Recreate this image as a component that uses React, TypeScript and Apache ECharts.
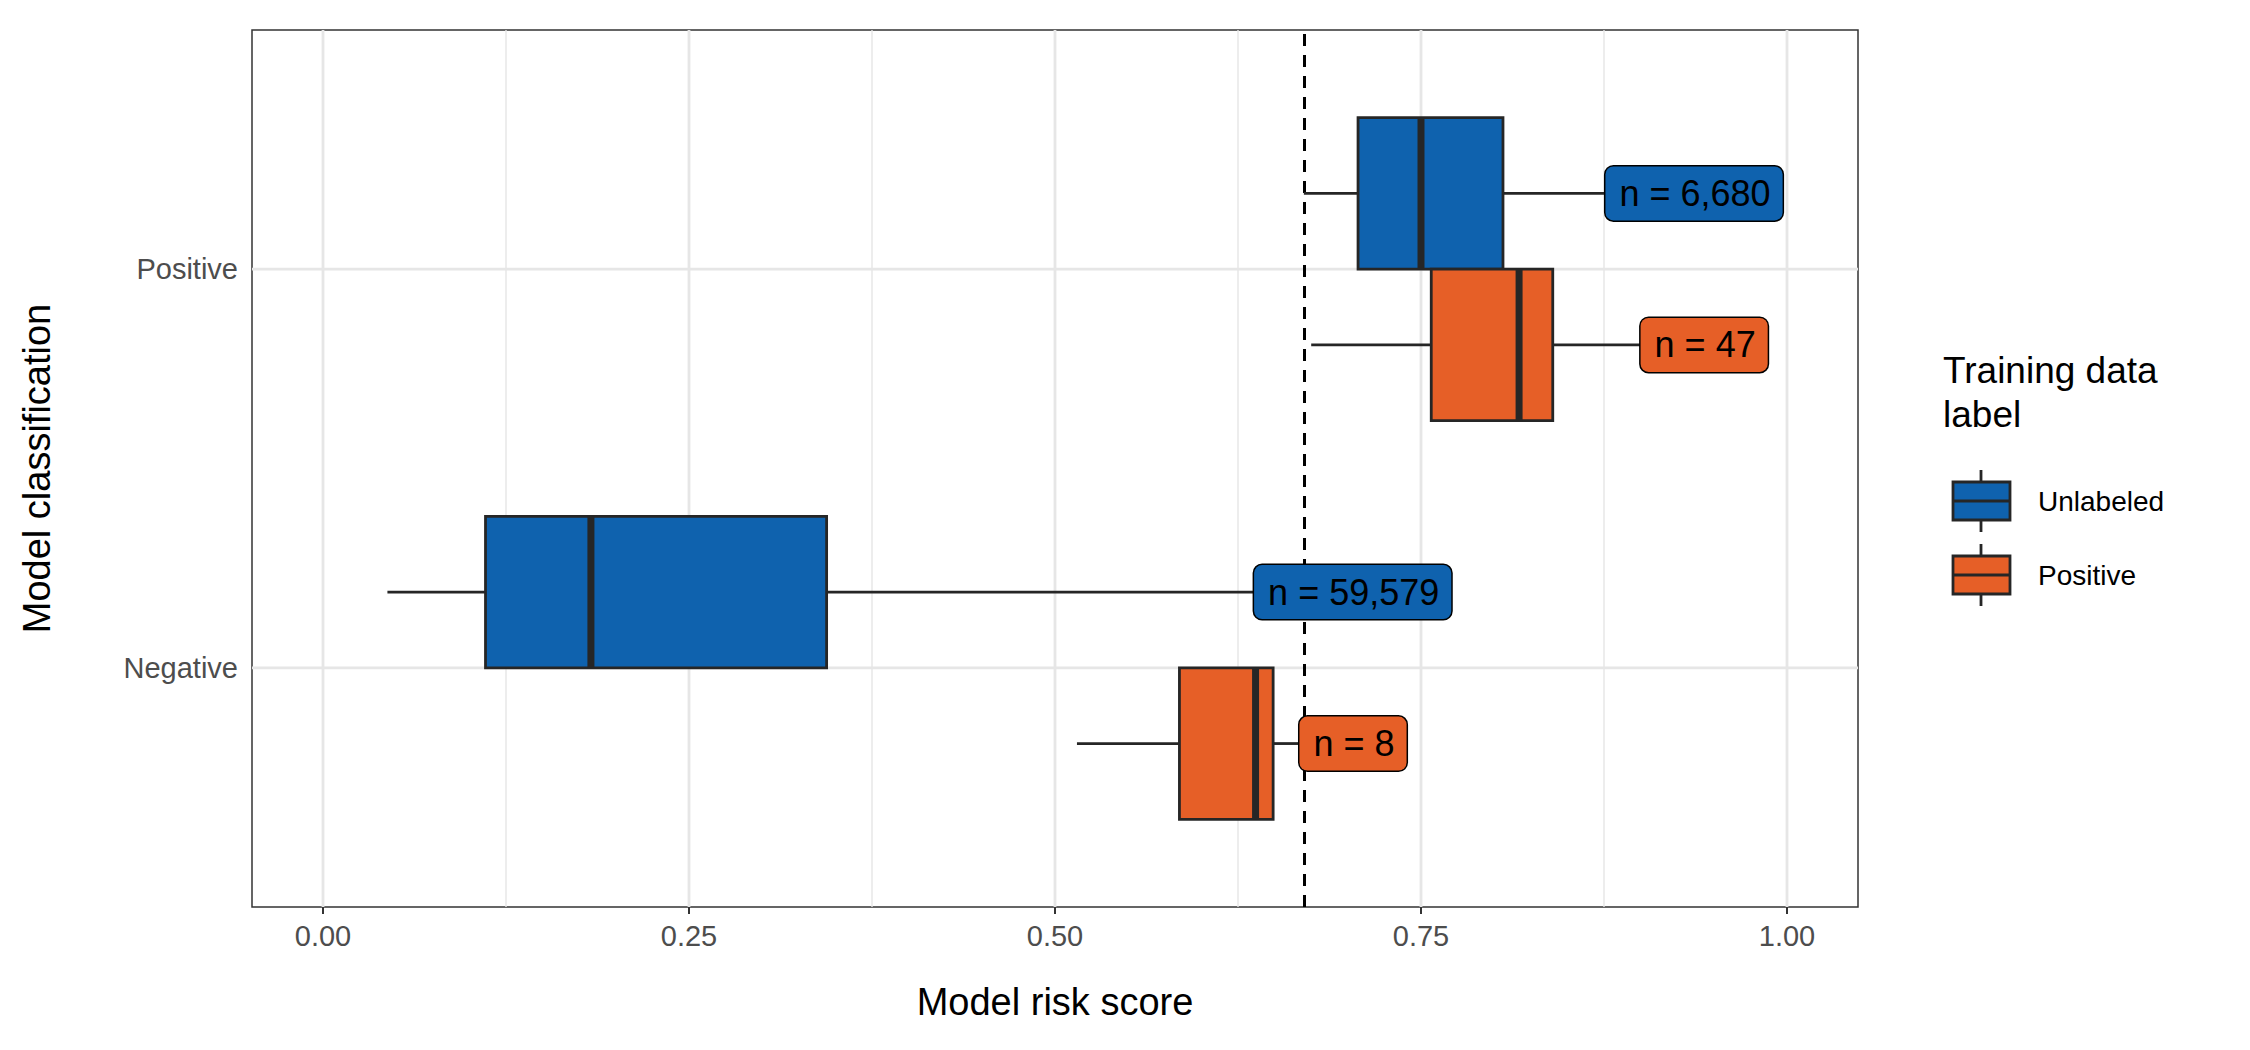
import { useEffect, useRef } from 'react';
import * as echarts from 'echarts';

// Data
const categories = ['Negative', 'Positive'];
const groups = ['Unlabeled', 'Positive'];
const groupColors = ['#0F62AE', '#E65F27'];
// [category index, group index, low, q1, median, q3, high]
const boxStats = [
  [1, 0, 0.670, 0.707, 0.750, 0.806, 0.876],
  [1, 1, 0.675, 0.757, 0.817, 0.840, 0.900],
  [0, 0, 0.044, 0.111, 0.183, 0.344, 0.636],
  [0, 1, 0.515, 0.585, 0.637, 0.649, 0.667],
];
const countLabels = ['n = 6,680', 'n = 47', 'n = 59,579', 'n = 8'];
const xTicks = [0, 0.25, 0.5, 0.75, 1];
const xMinor = [0.125, 0.375, 0.625, 0.875];
const threshold = 0.670;

const OUTLINE = '#262626';
const FONT = 'Liberation Sans, Arial, sans-serif';

export default function App() {
  const ref = useRef<HTMLDivElement>(null);

  useEffect(() => {
    if (!ref.current) return;
    const chart = echarts.init(ref.current, null, { renderer: 'svg' });

    const gridData = [
      ...xTicks.map((v) => ['x', v, 1]),
      ...xMinor.map((v) => ['x', v, 0]),
      ...categories.map((_, i) => ['y', i + 1, 1]),
    ];

    const option: echarts.EChartsOption = {
      animation: false,
      backgroundColor: '#fff',
      grid: {
        left: 244, right: 384, top: 22, bottom: 135,
        show: true, borderColor: '#333', borderWidth: 1.5, backgroundColor: 'transparent',
      },
      xAxis: {
        type: 'value', min: -0.0485, max: 1.0485,
        name: 'Model risk score', nameLocation: 'middle', nameGap: 76,
        nameTextStyle: { fontSize: 38, color: '#000', fontFamily: FONT },
        axisLine: { show: false },
        splitLine: { show: false },
        axisTick: { show: true, customValues: xTicks, length: 7, lineStyle: { color: '#333', width: 2 } },
        axisLabel: {
          customValues: xTicks, fontSize: 29, color: '#4D4D4D', fontFamily: FONT, margin: 14,
          formatter: (v: number) => v.toFixed(2),
        },
      },
      yAxis: {
        type: 'value', min: 0.4, max: 2.6,
        name: 'Model classification', nameLocation: 'middle', nameGap: 196,
        nameTextStyle: { fontSize: 38, color: '#000', fontFamily: FONT },
        axisLine: { show: false },
        splitLine: { show: false },
        axisTick: { show: true, customValues: [1, 2], length: 7, lineStyle: { color: '#333', width: 2 } },
        axisLabel: {
          customValues: [1, 2], fontSize: 29, color: '#4D4D4D', fontFamily: FONT, margin: 14,
          formatter: (v: number) => categories[Math.round(v) - 1] ?? '',
        },
      },
      series: [
        {
          type: 'custom',
          silent: true,
          z: 1,
          data: gridData,
          renderItem: (params: any, api: any) => {
            const kind = gridData[params.dataIndex][0];
            const v = api.value(1);
            const major = api.value(2) === 1;
            const cs = params.coordSys;
            if (kind === 'x') {
              const [x] = api.coord([v, 0.4]);
              return { type: 'line', shape: { x1: x, y1: cs.y, x2: x, y2: cs.y + cs.height },
                style: { stroke: '#E6E6E6', lineWidth: major ? 2.8 : 1.4 } };
            }
            const [, y] = api.coord([0, v]);
            return { type: 'line', shape: { x1: cs.x, y1: y, x2: cs.x + cs.width, y2: y },
              style: { stroke: '#E6E6E6', lineWidth: 2.8 } };
          },
          encode: { x: 1 },
          markLine: {
            silent: true, symbol: 'none', label: { show: false }, z: 2,
            lineStyle: { color: '#000', type: [12, 9], width: 3 },
            data: [{ xAxis: threshold }],
          },
        },
        {
          type: 'custom',
          z: 5,
          data: boxStats,
          renderItem: (params: any, api: any) => {
            const cat = api.value(0);
            const g = api.value(1);
            const yc = cat + 1 + (g === 0 ? 0.19 : -0.19);
            const h = api.size([0, 0.38])[1];
            const [xl, y] = api.coord([api.value(2), yc]);
            const [x1] = api.coord([api.value(3), yc]);
            const [xm] = api.coord([api.value(4), yc]);
            const [x3] = api.coord([api.value(5), yc]);
            const [xh] = api.coord([api.value(6), yc]);
            const label = countLabels[params.dataIndex];
            return {
              type: 'group',
              children: [
                { type: 'line', shape: { x1: xl, y1: y, x2: x1, y2: y }, style: { stroke: OUTLINE, lineWidth: 2.8 } },
                { type: 'line', shape: { x1: x3, y1: y, x2: xh, y2: y }, style: { stroke: OUTLINE, lineWidth: 2.8 } },
                { type: 'rect', shape: { x: x1, y: y - h / 2, width: x3 - x1, height: h },
                  style: { fill: groupColors[g], stroke: OUTLINE, lineWidth: 2.8 } },
                { type: 'line', shape: { x1: xm, y1: y - h / 2, x2: xm, y2: y + h / 2 }, style: { stroke: OUTLINE, lineWidth: 7 } },
                {
                  type: 'text', x: xh, y: y,
                  style: {
                    text: label, fontSize: 36, fontFamily: FONT, fill: '#000',
                    align: 'left', verticalAlign: 'middle',
                    backgroundColor: groupColors[g], borderColor: '#000', borderWidth: 1.5,
                    borderRadius: 8, padding: [10, 12, 8, 14],
                  },
                },
              ],
            };
          },
          encode: { x: [2, 3, 4, 5, 6], y: 0 },
        },
      ],
      graphic: [
        { type: 'text', left: 1935, top: 340,
          style: { text: 'Training data\nlabel', fontSize: 37, lineHeight: 44, fontFamily: FONT, fill: '#000' } },
        ...groups.flatMap((name, i) => {
          const top = 474 + i * 74;
          return [
            { type: 'line', shape: { x1: 1973, y1: top - 12, x2: 1973, y2: top + 50 }, style: { stroke: OUTLINE, lineWidth: 2.8 } },
            { type: 'rect', shape: { x: 1945, y: top, width: 57, height: 38 },
              style: { fill: groupColors[i], stroke: OUTLINE, lineWidth: 2.8 } },
            { type: 'line', shape: { x1: 1945, y1: top + 19, x2: 2002, y2: top + 19 }, style: { stroke: OUTLINE, lineWidth: 2.8 } },
            { type: 'text', x: 2030, y: top + 19,
              style: { text: name, fontSize: 28, fontFamily: FONT, fill: '#000', verticalAlign: 'middle' } },
          ];
        }),
      ] as any,
    };

    chart.setOption(option);
    return () => chart.dispose();
  }, []);

  return <div ref={ref} style={{ width: 2234, height: 1034 }} />;
}
